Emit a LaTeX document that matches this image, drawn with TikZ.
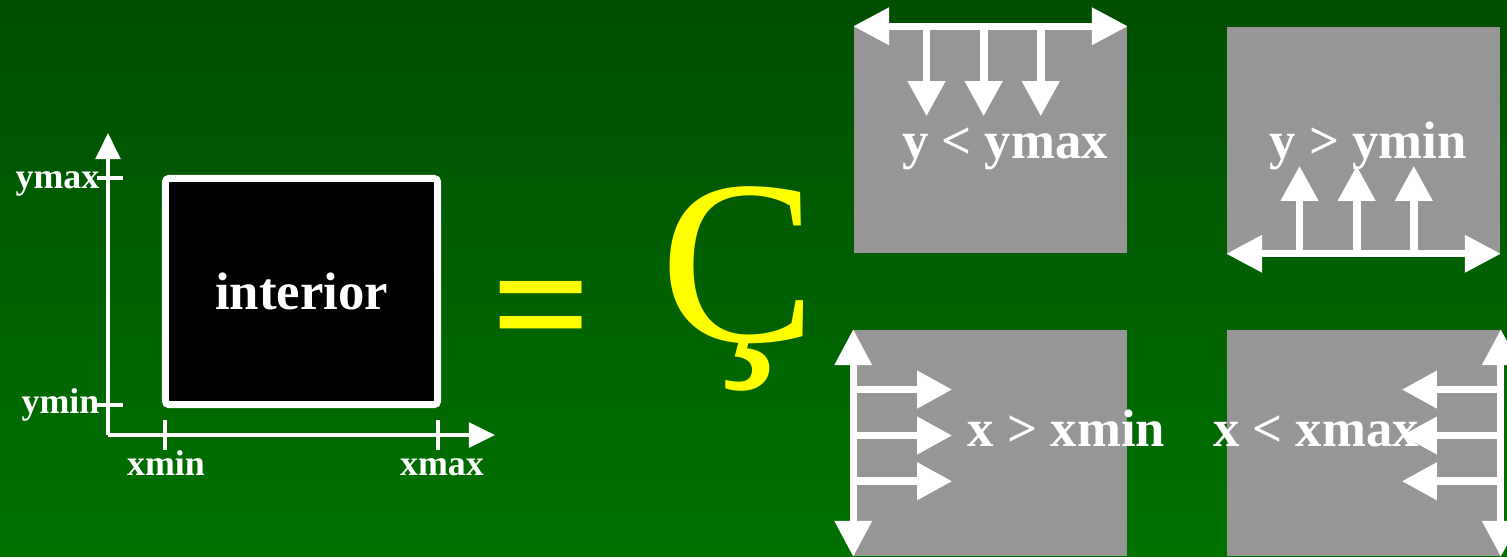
\documentclass[tikz,border=0pt]{standalone}
\usepackage{fontspec}
\setmainfont{Liberation Serif}
\usetikzlibrary{arrows.meta, calc, positioning}

\definecolor{bgtop}{RGB}{0,78,0}
\definecolor{bgbot}{RGB}{0,114,0}
\definecolor{halfgray}{RGB}{150,150,150}
\definecolor{signyellow}{RGB}{255,255,0}

\begin{document}
\begin{tikzpicture}[
    x=0.01cm, y=-0.01cm,
    axisline/.style={white, line width=1.1pt},
    axisarrow/.style={axisline, -{Triangle[length=7.4pt, width=7pt]}},
    tick/.style={white, line width=1.1pt},
    lbl/.style={text=white, font=\fontsize{10.2}{12}\selectfont\bfseries, inner sep=0pt},
    cond/.style={text=white, font=\fontsize{15}{18}\selectfont\bfseries, inner sep=0pt},
    halfplane/.style={fill=halfgray, inner sep=0pt, minimum width=2.73cm, minimum height=2.26cm},
    edge/.style={white, line width=2pt, {Triangle[length=10.2pt, width=10.2pt]}-{Triangle[length=10.2pt, width=10.2pt]}},
    push/.style={white, line width=2.2pt, -{Triangle[length=10pt, width=10.2pt]}}
]

\def\W{1507}
\def\H{556}

\useasboundingbox (0,0) rectangle (\W,\H);
\clip (0,0) rectangle (\W,\H);
\shade[top color=bgtop, bottom color=bgbot] (0,0) rectangle (\W,\H);

% window with axes
\coordinate (origin) at (108,435);
\draw[axisarrow] (origin) -- (108,133);
\draw[axisarrow] (origin) -- (495,435);
\draw[tick] (97,178) -- (123,178);
\draw[tick] (97,405) -- (123,405);
\draw[tick] (165,420) -- (165,450);
\draw[tick] (438,420) -- (438,450);

\node[lbl, anchor=base east] (ymax) at (100,188) {ymax};
\node[lbl, anchor=base east] (ymin) at (100,413) {ymin};
\node[lbl, anchor=base] (xmin) at (166,475) {xmin};
\node[lbl, anchor=base] (xmax) at (442,475) {xmax};

\node[draw=white, fill=black, line width=2pt, rounded corners=1pt,
      minimum width=2.72cm, minimum height=2.26cm, inner sep=0pt,
      text=white, font=\fontsize{15}{18}\selectfont\bfseries] (interior) at (301.5,291.5) {interior};

\node[text=signyellow, font=\fontsize{50}{52}\selectfont\bfseries, inner sep=0pt, anchor=base] (equals) at (542,363) {=};
\node[text=signyellow, font=\fontsize{66.5}{70}\selectfont, inner sep=0pt, anchor=base] (cap) at (738,341) {Ç};

% four half planes
\node[halfplane] (below) at (990.5,140) {};
\node[halfplane] (above) at (1363.5,140) {};
\node[halfplane] (right) at (990.5,443) {};
\node[halfplane] (left) at (1363.5,443) {};

\draw[edge] (below.north west) -- (below.north east);
\foreach \f in {0.267,0.475,0.683}
  \draw[push] ($(below.north west)!\f!(below.north east)$) -- ++(0,90);

\draw[edge] (above.south west) -- (above.south east);
\foreach \f in {0.267,0.475,0.683}
  \draw[push] ($(above.south west)!\f!(above.south east)$) -- ++(0,-88);

\draw[edge] (right.north west) -- (right.south west);
\foreach \f in {0.265,0.467,0.668}
  \draw[push] ($(right.north west)!\f!(right.south west)$) -- ++(99,0);

\draw[edge] (left.north east) -- (left.south east);
\foreach \f in {0.265,0.467,0.668}
  \draw[push] ($(left.north east)!\f!(left.south east)$) -- ++(-99,0);

\node[cond, anchor=base] (ltymax) at (1005,158) {y < ymax};
\node[cond, anchor=base] (gtymin) at (1368,158) {y > ymin};
\node[cond, anchor=base] (gtxmin) at (1066.5,446) {x > xmin};
\node[cond, anchor=base] (ltxmax) at (1316,446) {x < xmax};

\end{tikzpicture}
\end{document}
